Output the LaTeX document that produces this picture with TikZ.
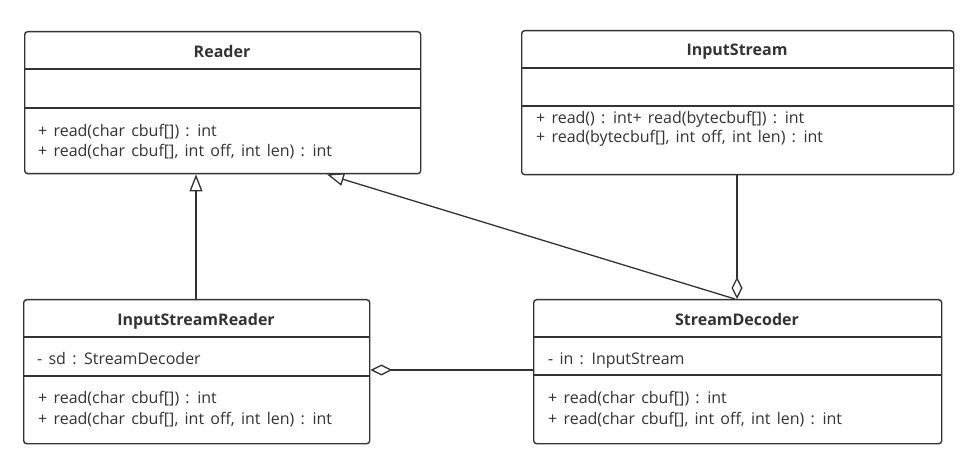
\documentclass[tikz,border=0pt]{standalone}
\usepackage{fontspec}
\setmainfont{Open Sans}[WordSpace=1.5]
\usetikzlibrary{arrows.meta,calc}
\definecolor{ink}{HTML}{333333}
\begin{document}
\begin{tikzpicture}[x=1pt,y=-1pt,
  classbox/.style={draw=ink, line width=1.4pt, rounded corners=3pt, inner sep=0pt, anchor=north west},
  sep/.style={draw=ink, line width=1.4pt},
  title/.style={font=\fontsize{16}{19}\selectfont\bfseries, text=ink, anchor=base, inner sep=0pt},
  member/.style={font=\fontsize{16}{19}\selectfont, text=ink, anchor=base west, inner sep=0pt},
  link/.style={draw=ink, line width=1.3pt},
  inherit/.style={link, -{Triangle[open, length=17pt, width=13pt, line width=1.3pt]}},
  aggregate/.style={link, {Diamond[open, length=22pt, width=11pt, line width=1.3pt]}-}
]
\useasboundingbox (0,0) rectangle (964,454);

% Reader
\node[classbox, minimum width=396pt, minimum height=142pt] (reader) at (24,31) {};
\draw[sep] (24,69) -- (420,69);
\draw[sep] (24,108) -- (420,108);
\node[title] (readerT) at (222,58) {Reader};
\node[member] (readerM1) at (38,137) {+ read(char cbuf[]) : int};
\node[member] (readerM2) at (38,157) {+ read(char cbuf[], int off, int len) : int};

% InputStream
\node[classbox, minimum width=432pt, minimum height=144pt] (istream) at (521,30) {};
\draw[sep] (521,68) -- (953,68);
\draw[sep] (521,106) -- (953,106);
\node[title] (istreamT) at (737,56) {InputStream};
\node[member] (istreamM1) at (536,124) {+ read() : int+ read(bytecbuf[]) : int};
\node[member] (istreamM2) at (536,143) {+ read(bytecbuf[], int off, int len) : int};

% InputStreamReader
\node[classbox, minimum width=346pt, minimum height=144pt] (isr) at (23,299) {};
\draw[sep] (23,337) -- (369,337);
\draw[sep] (23,376) -- (369,376);
\node[title] (isrT) at (196,326) {InputStreamReader};
\node[member] (isrA1) at (37,364) {- sd : StreamDecoder};
\node[member] (isrM1) at (38,403) {+ read(char cbuf[]) : int};
\node[member] (isrM2) at (38,424) {+ read(char cbuf[], int off, int len) : int};

% StreamDecoder
\node[classbox, minimum width=408pt, minimum height=144pt] (sd) at (533,299) {};
\draw[sep] (533,337) -- (941,337);
\draw[sep] (533,375) -- (941,375);
\node[title] (sdT) at (737,326) {StreamDecoder};
\node[member] (sdA1) at (548,364) {- in : InputStream};
\node[member] (sdM1) at (548,403) {+ read(char cbuf[]) : int};
\node[member] (sdM2) at (548,424) {+ read(char cbuf[], int off, int len) : int};

% relations
\draw[inherit] ($(isr.north west)+(173,0)$) -- ($(reader.south west)+(172,0)$);
\draw[inherit] ($(sd.north west)+(202,0)$) -- ($(reader.south west)+(303,0)$);
\draw[aggregate] ($(sd.north west)+(204,0)$) -- ($(istream.south west)+(216,0)$);
\draw[aggregate] ($(isr.north east)+(0,71)$) -- ($(sd.north west)+(0,71)$);
\end{tikzpicture}
\end{document}
